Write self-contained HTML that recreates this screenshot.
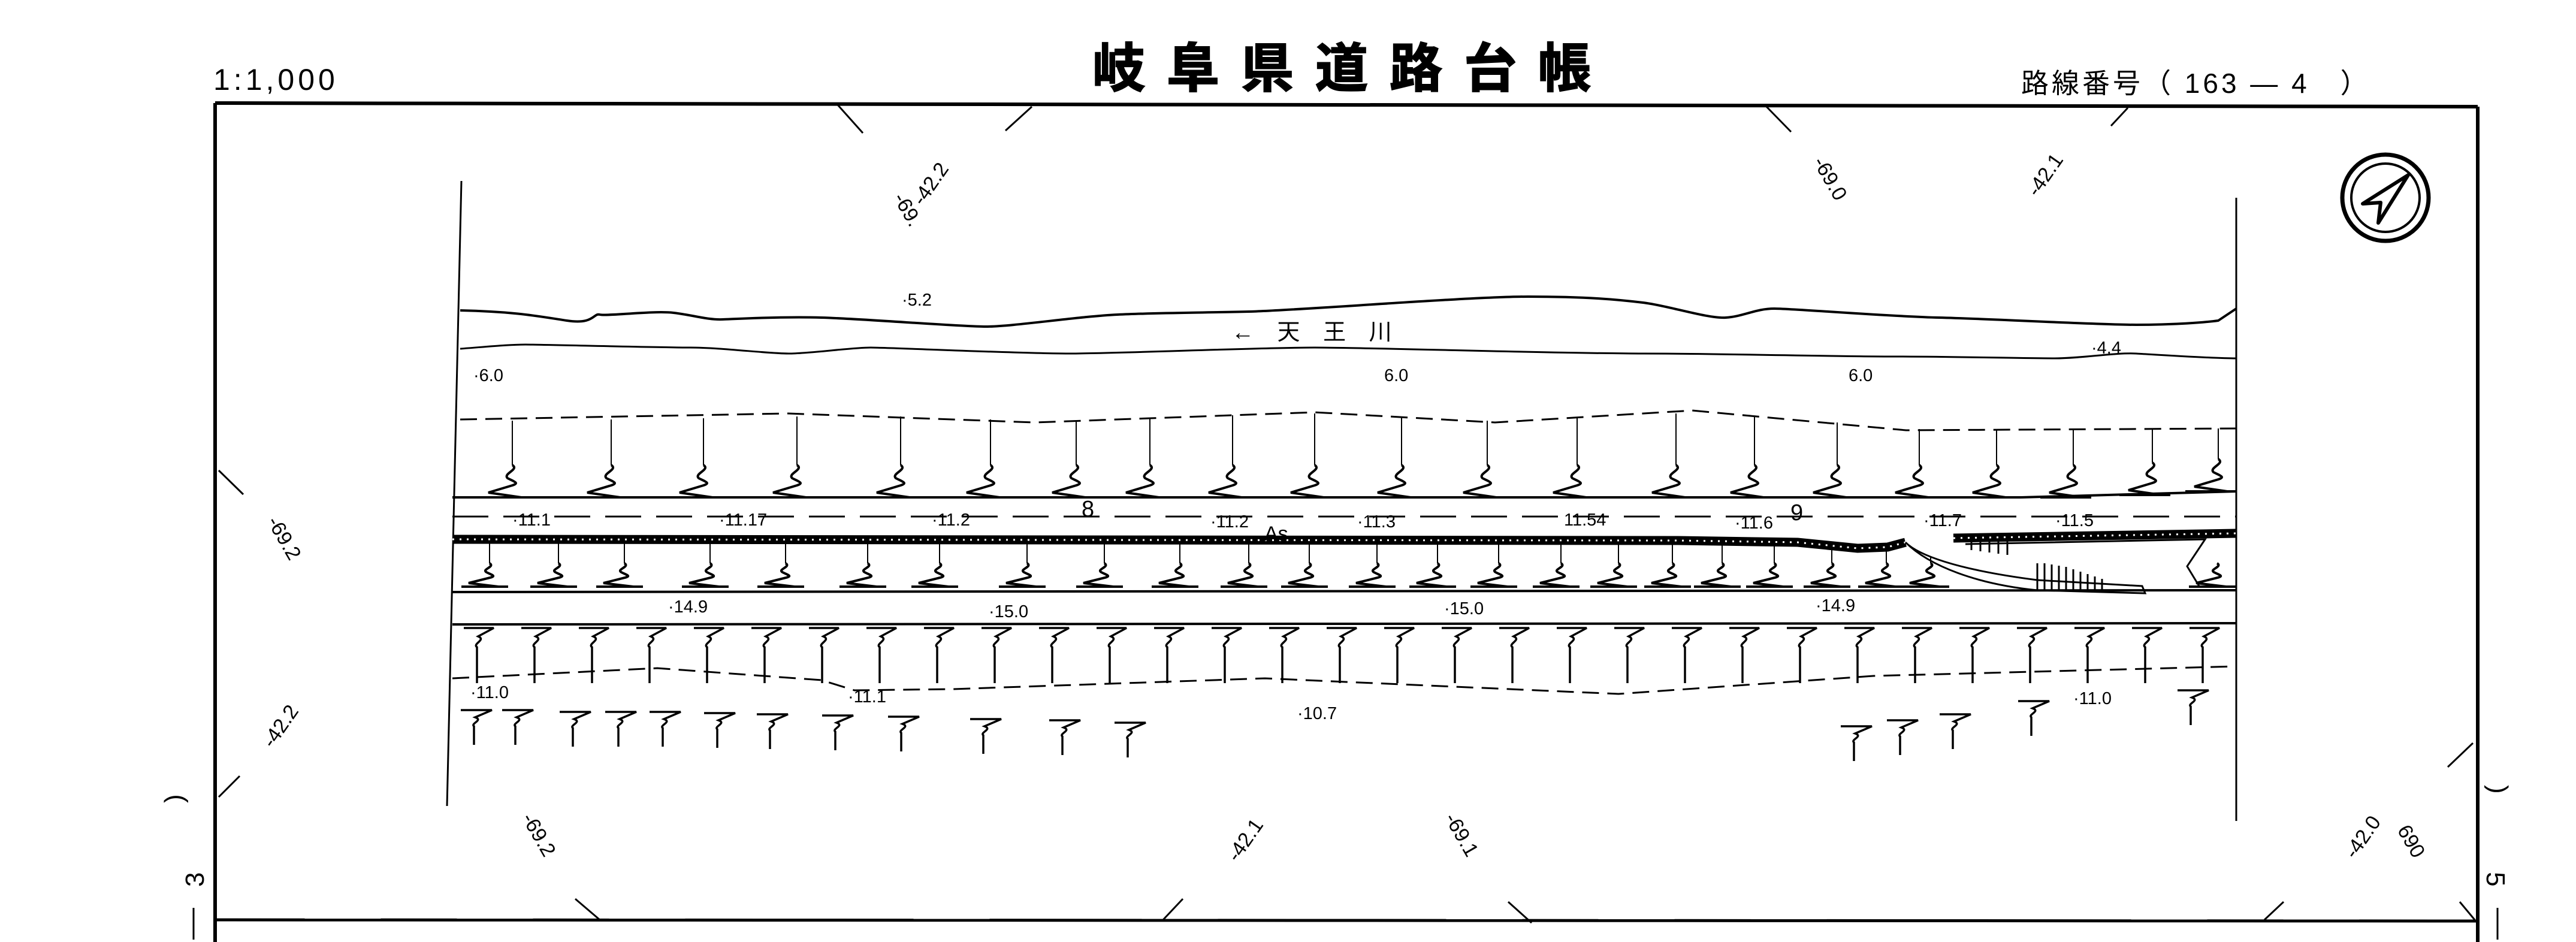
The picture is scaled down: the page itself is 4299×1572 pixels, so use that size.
<!DOCTYPE html>
<html><head><meta charset="utf-8"><style>
html,body{margin:0;padding:0;background:#fff;}
svg{display:block;}
text{font-family:"Liberation Sans","Noto Sans CJK JP",sans-serif;fill:#000;}
</style></head><body>
<svg width="4299" height="1572" viewBox="0 0 4299 1572" xmlns="http://www.w3.org/2000/svg">
<defs>
<path id="w1" d="M0,0 c12,8 -16,14 -8,22 c12,6 20,8 8,12 l-40,12 l55,8 h-70 h85" fill="none" stroke="#000" stroke-width="4"/>
<path id="w2" d="M0,0 c10,6 -14,10 -5,15 c10,5 16,6 6,9 l-36,9 l50,6 h-62 h78" fill="none" stroke="#000" stroke-width="4"/>
<path id="t1" d="M-24,3 h50 l-26,14 c14,6 -10,12 -2,18 V95" fill="none" stroke="#000" stroke-width="3.5"/>
<path id="t2" d="M-26,2 h52 l-28,12 c14,5 -8,10 -2,15 V60" fill="none" stroke="#000" stroke-width="3.5"/>
</defs>
<g fill="none" stroke="#000">
<line x1="359" y1="172" x2="4135" y2="178" stroke-width="6"/>
<line x1="359" y1="172" x2="359" y2="1572" stroke-width="6"/>
<line x1="4135" y1="178" x2="4135" y2="1572" stroke-width="6"/>
<line x1="359" y1="1535" x2="4135" y2="1537" stroke-width="5"/>
<g stroke-width="3">
<line x1="1398" y1="175" x2="1440" y2="222"/><line x1="1722" y1="178" x2="1678" y2="218"/>
<line x1="2948" y1="178" x2="2989" y2="220"/><line x1="3551" y1="180" x2="3523" y2="210"/>
<line x1="365" y1="785" x2="406" y2="825"/><line x1="365" y1="1330" x2="400" y2="1295"/>
<line x1="4127" y1="1240" x2="4085" y2="1280"/><line x1="4105" y1="1505" x2="4130" y2="1535"/>
<line x1="960" y1="1500" x2="1001" y2="1535"/><line x1="1974" y1="1500" x2="1941" y2="1535"/>
<line x1="2517" y1="1505" x2="2556" y2="1540"/><line x1="3811" y1="1505" x2="3779" y2="1535"/>
<line x1="323" y1="1515" x2="323" y2="1568"/><line x1="4168" y1="1515" x2="4168" y2="1568"/>
</g>
<line x1="770" y1="302" x2="746" y2="1345" stroke-width="3"/>
<line x1="3732" y1="330" x2="3732" y2="1370" stroke-width="3"/>
<path d="M768,518 C860,520 900,528 946,535 S990,522 1001,525 S1090,518 1124,522 S1180,534 1206,533 S1300,528 1371,530 S1600,545 1645,545 S1800,528 1865,525 S2000,522 2084,520 S2450,495 2550,495 S2700,500 2742,505 S2850,532 2880,530 S2930,515 2961,515 S3150,528 3236,530 S3500,542 3565,542 S3680,538 3702,535 L3732,515" stroke-width="4"/>
<path d="M768,582 C820,578 850,575 877,575 S1100,580 1152,580 S1280,590 1316,590 S1420,580 1453,580 S1700,590 1782,590 S2100,580 2194,580 S2600,590 2742,590 S3050,595 3154,595 S3380,598 3428,598 S3530,588 3565,590 S3690,598 3732,598" stroke-width="3"/>
<polyline points="768,700 1316,690 1727,705 2194,688 2495,705 2824,685 3181,718 3732,715" stroke-width="3" stroke-dasharray="28,14"/>
<line x1="755" y1="830" x2="3373" y2="830" stroke-width="4"/>
<line x1="3373" y1="830" x2="3732" y2="820" stroke-width="4"/>
<line x1="755" y1="862" x2="3732" y2="862" stroke-width="3" stroke-dasharray="60,25"/>
<polyline points="755,900 2800,902 3000,905 3100,915 3150,913 3180,905" stroke-width="15"/>
<polyline points="755,900 2800,902 3000,905 3100,915 3150,913 3180,905" stroke="#fff" stroke-width="3" stroke-dasharray="3,9"/>
<polyline points="3260,898 3732,890" stroke-width="15"/>
<polyline points="3260,898 3732,890" stroke="#fff" stroke-width="3" stroke-dasharray="3,9"/>
<path d="M3180,905 C3200,925 3260,950 3400,968 L3575,978 L3580,990 L3400,985 C3300,975 3220,945 3180,905" stroke-width="3"/>
<path d="M3280,908 L3680,900 L3650,945 L3670,978" stroke-width="3"/>
<g stroke-width="3">
<line x1="3400" y1="940" x2="3400" y2="985"/><line x1="3412" y1="940" x2="3412" y2="985"/><line x1="3424" y1="942" x2="3424" y2="985"/><line x1="3436" y1="944" x2="3436" y2="985"/><line x1="3448" y1="946" x2="3448" y2="986"/><line x1="3460" y1="950" x2="3460" y2="986"/><line x1="3472" y1="954" x2="3472" y2="986"/><line x1="3484" y1="958" x2="3484" y2="987"/><line x1="3496" y1="962" x2="3496" y2="987"/><line x1="3508" y1="966" x2="3508" y2="988"/>
<line x1="3290" y1="902" x2="3290" y2="918"/><line x1="3305" y1="902" x2="3305" y2="920"/><line x1="3320" y1="902" x2="3320" y2="922"/><line x1="3335" y1="902" x2="3335" y2="924"/><line x1="3350" y1="902" x2="3350" y2="926"/>
</g>
<line x1="755" y1="988" x2="3732" y2="985" stroke-width="4"/>
<line x1="755" y1="1042" x2="3732" y2="1040" stroke-width="4"/>
<polyline points="755,1132 1097,1115 1371,1135 1426,1152 1590,1150 2111,1132 2701,1158 3126,1128 3732,1112" stroke-width="3" stroke-dasharray="28,14"/>
</g>
<g stroke="#000" stroke-width="2">
<line x1="855" y1="702" x2="855" y2="776"/><line x1="1020" y1="700" x2="1020" y2="776"/><line x1="1174" y1="698" x2="1174" y2="776"/><line x1="1330" y1="695" x2="1330" y2="776"/><line x1="1503" y1="695" x2="1503" y2="776"/><line x1="1653" y1="700" x2="1653" y2="776"/><line x1="1796" y1="702" x2="1796" y2="776"/><line x1="1919" y1="698" x2="1919" y2="776"/><line x1="2057" y1="693" x2="2057" y2="776"/><line x1="2194" y1="690" x2="2194" y2="776"/><line x1="2339" y1="695" x2="2339" y2="776"/><line x1="2482" y1="702" x2="2482" y2="776"/><line x1="2632" y1="698" x2="2632" y2="776"/><line x1="2797" y1="690" x2="2797" y2="776"/><line x1="2928" y1="695" x2="2928" y2="776"/><line x1="3066" y1="705" x2="3066" y2="776"/><line x1="3203" y1="716" x2="3203" y2="776"/><line x1="3332" y1="716" x2="3332" y2="776"/><line x1="3460" y1="716" x2="3460" y2="776"/><line x1="3592" y1="715" x2="3592" y2="772"/><line x1="3702" y1="715" x2="3702" y2="766"/>
</g>
<g>
<use href="#w1" x="855" y="776"/><use href="#w1" x="1020" y="776"/><use href="#w1" x="1174" y="776"/><use href="#w1" x="1330" y="776"/><use href="#w1" x="1503" y="776"/><use href="#w1" x="1653" y="776"/><use href="#w1" x="1796" y="776"/><use href="#w1" x="1919" y="776"/><use href="#w1" x="2057" y="776"/><use href="#w1" x="2194" y="776"/><use href="#w1" x="2339" y="776"/><use href="#w1" x="2482" y="776"/><use href="#w1" x="2632" y="776"/><use href="#w1" x="2797" y="776"/><use href="#w1" x="2928" y="776"/><use href="#w1" x="3066" y="776"/><use href="#w1" x="3203" y="776"/><use href="#w1" x="3332" y="776"/><use href="#w1" x="3460" y="776"/><use href="#w1" x="3592" y="772"/><use href="#w1" x="3702" y="766"/>
</g>
<g stroke="#000" stroke-width="2">
<path d="M817,906V940M932,906V940M1042,906V940M1185,906V940M1311,906V940M1448,906V940M1568,906V940M1714,906V940M1843,906V940M1969,906V940M2084,906V940M2185,906V940M2298,906V940M2399,906V940M2501,906V940M2605,906V940M2701,906V940M2791,906V940M2874,906V940M2961,910V940M3057,915V940M3148,915V940M3222,930V940"/>
</g>
<g>
<use href="#w2" x="817" y="940"/><use href="#w2" x="932" y="940"/><use href="#w2" x="1042" y="940"/><use href="#w2" x="1185" y="940"/><use href="#w2" x="1311" y="940"/><use href="#w2" x="1448" y="940"/><use href="#w2" x="1568" y="940"/><use href="#w2" x="1714" y="940"/><use href="#w2" x="1843" y="940"/><use href="#w2" x="1969" y="940"/><use href="#w2" x="2084" y="940"/><use href="#w2" x="2185" y="940"/><use href="#w2" x="2298" y="940"/><use href="#w2" x="2399" y="940"/><use href="#w2" x="2501" y="940"/><use href="#w2" x="2605" y="940"/><use href="#w2" x="2701" y="940"/><use href="#w2" x="2791" y="940"/><use href="#w2" x="2874" y="940"/><use href="#w2" x="2961" y="940"/><use href="#w2" x="3057" y="940"/><use href="#w2" x="3148" y="940"/><use href="#w2" x="3222" y="940"/><use href="#w2" x="3700" y="940"/>
</g>
<g>
<use href="#t1" x="798" y="1045"/><use href="#t1" x="894" y="1045"/><use href="#t1" x="990" y="1045"/><use href="#t1" x="1086" y="1045"/><use href="#t1" x="1182" y="1045"/><use href="#t1" x="1278" y="1045"/><use href="#t1" x="1374" y="1045"/><use href="#t1" x="1470" y="1045"/><use href="#t1" x="1566" y="1045"/><use href="#t1" x="1662" y="1045"/><use href="#t1" x="1758" y="1045"/><use href="#t1" x="1854" y="1045"/><use href="#t1" x="1950" y="1045"/><use href="#t1" x="2046" y="1045"/><use href="#t1" x="2142" y="1045"/><use href="#t1" x="2238" y="1045"/><use href="#t1" x="2334" y="1045"/><use href="#t1" x="2430" y="1045"/><use href="#t1" x="2526" y="1045"/><use href="#t1" x="2622" y="1045"/><use href="#t1" x="2718" y="1045"/><use href="#t1" x="2814" y="1045"/><use href="#t1" x="2910" y="1045"/><use href="#t1" x="3006" y="1045"/><use href="#t1" x="3102" y="1045"/><use href="#t1" x="3198" y="1045"/><use href="#t1" x="3294" y="1045"/><use href="#t1" x="3390" y="1045"/><use href="#t1" x="3486" y="1045"/><use href="#t1" x="3582" y="1045"/><use href="#t1" x="3678" y="1045"/>
</g>
<g>
<use href="#t2" x="795" y="1183"/><use href="#t2" x="864" y="1183"/><use href="#t2" x="960" y="1186"/><use href="#t2" x="1036" y="1186"/><use href="#t2" x="1110" y="1186"/><use href="#t2" x="1201" y="1188"/><use href="#t2" x="1289" y="1190"/><use href="#t2" x="1398" y="1192"/><use href="#t2" x="1508" y="1194"/><use href="#t2" x="1645" y="1198"/><use href="#t2" x="1777" y="1200"/><use href="#t2" x="1886" y="1204"/>
<use href="#t2" x="3098" y="1210"/><use href="#t2" x="3175" y="1200"/><use href="#t2" x="3263" y="1190"/><use href="#t2" x="3394" y="1168"/><use href="#t2" x="3660" y="1150"/>
</g>
<g transform="translate(3981,330)">
<circle r="72" fill="none" stroke="#000" stroke-width="7"/>
<circle r="57" fill="none" stroke="#000" stroke-width="4"/>
<path d="M38,-38 L-38,10 L-8,8 L-12,42 Z" fill="none" stroke="#000" stroke-width="6" stroke-linejoin="round"/>
</g>
<text x="356" y="150" font-size="50" letter-spacing="6">1:1,000</text>
<text x="1823" y="145" font-size="88" font-weight="bold" letter-spacing="36" stroke="#000" stroke-width="2">岐阜県道路台帳</text>
<text x="3373" y="155" font-size="46" letter-spacing="5">路線番号（ 163 — 4　）</text>
<g font-size="29">
<text x="1505" y="510">·5.2</text>
<text x="3490" y="590">·4.4</text>
<text x="790" y="636">·6.0</text>
<text x="2310" y="636">6.0</text>
<text x="3085" y="636">6.0</text>
<text x="855" y="877">·11.1</text>
<text x="1200" y="877">·11.17</text>
<text x="1555" y="877">·11.2</text>
<text x="2020" y="880">·11.2</text>
<text x="2265" y="880">·11.3</text>
<text x="2610" y="877">11.54</text>
<text x="2895" y="882">·11.6</text>
<text x="3210" y="878">·11.7</text>
<text x="3430" y="878">·11.5</text>
<text x="1115" y="1022">·14.9</text>
<text x="1650" y="1030">·15.0</text>
<text x="2410" y="1025">·15.0</text>
<text x="3030" y="1020">·14.9</text>
<text x="785" y="1165">·11.0</text>
<text x="1415" y="1172">·11.1</text>
<text x="2165" y="1200">·10.7</text>
<text x="3460" y="1175">·11.0</text>
</g>
<text x="1805" y="862" font-size="38">8</text>
<text x="2988" y="868" font-size="38">9</text>
<text x="2110" y="902" font-size="34">As</text>
<text x="2055" y="567" font-size="38" letter-spacing="14">← 天 王 川</text>
<g font-size="34">
<text transform="translate(1490,330) rotate(60)">-69.</text>
<text transform="translate(1540,345) rotate(-55)">-42.2</text>
<text transform="translate(3025,270) rotate(60)">-69.0</text>
<text transform="translate(3400,330) rotate(-55)">-42.1</text>
<text transform="translate(445,870) rotate(60)">-69.2</text>
<text transform="translate(455,1250) rotate(-55)">-42.2</text>
<text transform="translate(870,1365) rotate(60)">-69.2</text>
<text transform="translate(2065,1440) rotate(-55)">-42.1</text>
<text transform="translate(2410,1365) rotate(60)">-69.1</text>
<text transform="translate(3930,1435) rotate(-55)">-42.0</text>
<text transform="translate(4000,1385) rotate(60)">690</text>
</g>
<g font-size="44">
<text transform="translate(305,1340) rotate(-90)">)</text>
<text transform="translate(340,1480) rotate(-90)">3</text>
<text transform="translate(4155,1310) rotate(90)">)</text>
<text transform="translate(4150,1455) rotate(90)">5</text>
</g>
</svg>
</body></html>
